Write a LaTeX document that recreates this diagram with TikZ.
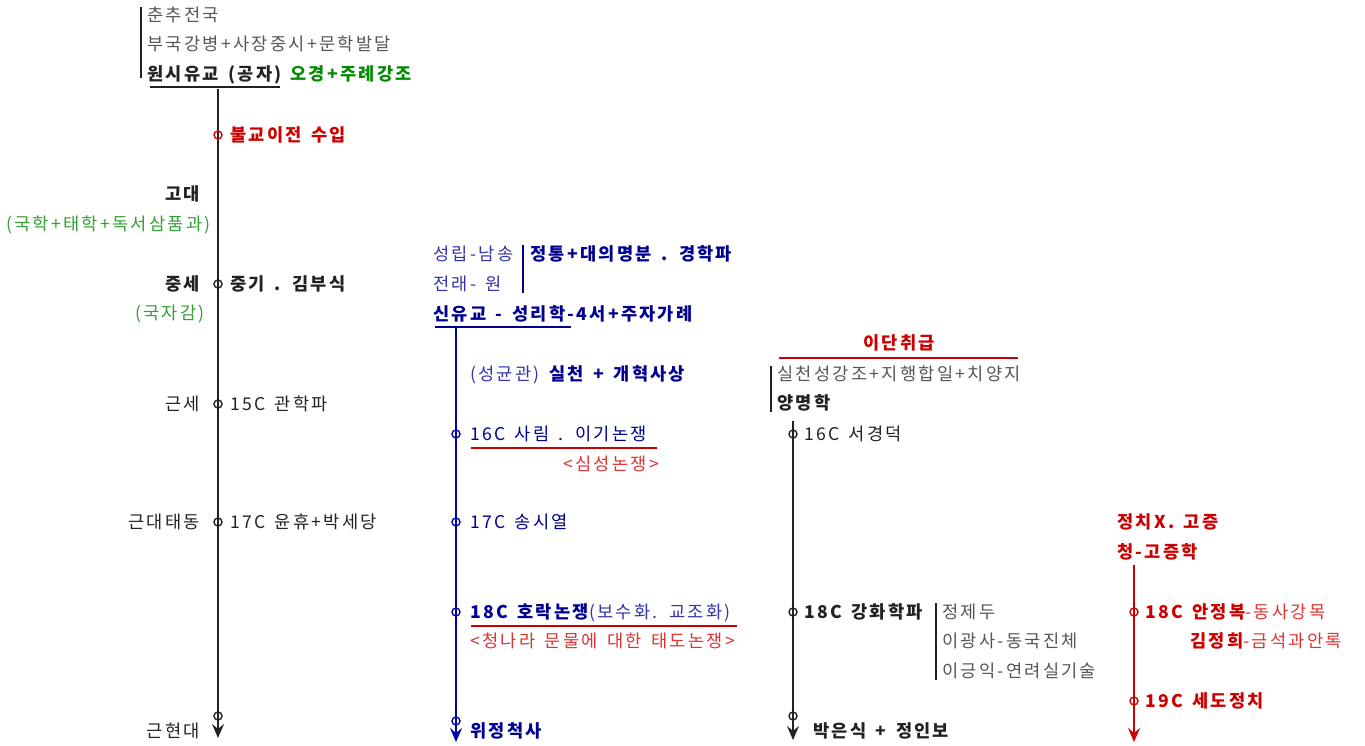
\documentclass[tikz,border=0pt]{standalone}
\usepackage{fontspec}
\setmainfont[LetterSpace=13,WordSpace=1.5]{Noto Sans CJK KR}
\usetikzlibrary{arrows.meta}
\definecolor{dk}{HTML}{222222}
\definecolor{gy}{HTML}{555555}
\definecolor{gn}{HTML}{008C00}
\definecolor{lgn}{HTML}{33A033}
\definecolor{rd}{HTML}{CC0000}
\definecolor{lrd}{HTML}{DD3333}
\definecolor{nv}{HTML}{000090}
\definecolor{bl}{HTML}{3333AA}
\definecolor{bline}{HTML}{0000AA}
\tikzset{
  lbl/.style={inner sep=0pt, text height=15pt, text depth=2pt, anchor=west},
  lblr/.style={lbl, anchor=east},
  rg/.style={font=\fontsize{17.6}{18}\selectfont},
  bd/.style={font=\fontsize{17.6}{18}\selectfont\bfseries},
  dotn/.style={circle, draw, line width=1.4pt, minimum size=8pt, inner sep=0pt},
  bar/.style={line width=1.6pt},
  tl/.style={line width=1.8pt, -{Stealth[length=14pt,width=12pt,inset=5pt]}},
  uline/.style={line width=1.6pt}
}
\begin{document}
\begin{tikzpicture}[x=1pt,y=-1pt]
\useasboundingbox (0,0) rectangle (1365,746);
% ---------- top block ----------
\coordinate (bt1) at (141,7); \coordinate (bt2) at (141,78);
\draw[bar, dk] (bt1) -- (bt2);
\node[lbl, rg, gy] (t1) at (147,15) {춘추전국};
\node[lbl, rg, gy] (t2) at (147,44) {부국강병+사장중시+문학발달};
\node[lbl, bd, dk] (t3) at (147,74) {원시유교 (공자)};
\node[lbl, bd, gn] (t4) at (290,74) {오경+주례강조};
\coordinate (u1a) at (150,87); \coordinate (u1b) at (280,87);
\draw[uline, dk] (u1a) -- (u1b);
% ---------- main black timeline ----------
\coordinate (m0) at (218,89); \coordinate (m1) at (218,738);
\draw[tl, dk] (m0) -- (m1);
\node[dotn, rd] (c1) at (218,135) {};
\node[lbl, bd, rd] (a1) at (230,135) {불교이전 수입};
\node[lblr, bd, dk] (a2) at (200,194) {고대};
\node[lblr, rg, lgn] (a3) at (211,224) {(국학+태학+독서삼품과)};
\node[lblr, bd, dk] (a4) at (200,284) {중세};
\node[dotn, dk] (c2) at (218,284) {};
\node[lbl, bd, dk] (a5) at (230,284) {중기 . 김부식};
\node[lblr, rg, lgn] (a6) at (205,313) {(국자감)};
\node[lblr, rg, dk] (a7) at (200,404) {근세};
\node[dotn, dk] (c3) at (218,404) {};
\node[lbl, rg, dk] (a8) at (230,404) {15C 관학파};
\node[lblr, rg, dk] (a9) at (200,522) {근대태동};
\node[dotn, dk] (c4) at (218,522) {};
\node[lbl, rg, dk] (a10) at (230,522) {17C 윤휴+박세당};
\node[dotn, dk] (c5) at (218,716) {};
\node[lblr, rg, dk] (a11) at (200,731) {근현대};
% ---------- blue column ----------
\node[lbl, rg, bl] (b1) at (433,254) {성립-남송};
\node[lbl, rg, bl] (b2) at (433,284) {전래- 원};
\coordinate (bb1) at (523,245); \coordinate (bb2) at (523,293);
\draw[bar, nv] (bb1) -- (bb2);
\node[lbl, bd, nv] (b3) at (530,254) {정통+대의명분 . 경학파};
\node[lbl, bd, nv] (b4) at (433,314) {신유교 - 성리학-4서+주자가례};
\coordinate (u2a) at (435,327); \coordinate (u2b) at (571,327);
\draw[uline, nv] (u2a) -- (u2b);
\coordinate (n0) at (456,327); \coordinate (n1) at (456,742);
\draw[tl, bline] (n0) -- (n1);
\node[lbl, rg, bl] (b5) at (470,374) {(성균관) \textcolor{nv}{\bfseries 실천 + 개혁사상}};
\node[dotn, bline] (d1) at (456,434) {};
\node[lbl, rg, nv] (b6) at (470,434) {16C 사림 . 이기논쟁};
\coordinate (u3a) at (471,448); \coordinate (u3b) at (657,448);
\draw[uline, rd] (u3a) -- (u3b);
\node[lbl, rg, lrd] (b7) at (563,464) {<심성논쟁>};
\node[dotn, bline] (d2) at (456,522) {};
\node[lbl, rg, nv] (b8) at (470,522) {17C 송시열};
\node[dotn, bline] (d3) at (456,612) {};
\node[lbl, bd, nv] (b9) at (470,612) {18C 호락논쟁\textcolor{bl}{\mdseries(보수화. 교조화)}};
\coordinate (u4a) at (471,626); \coordinate (u4b) at (737,626);
\draw[uline, rd] (u4a) -- (u4b);
\node[lbl, rg, lrd] (b10) at (470,641) {<청나라 문물에 대한 태도논쟁>};
\node[dotn, bline] (d4) at (456,721) {};
\node[lbl, bd, nv] (b11) at (470,731) {위정척사};
% ---------- third column ----------
\node[bd, rd, inner sep=0pt, text height=15pt, text depth=2pt] (e1) at (899,343) {이단취급};
\coordinate (u5a) at (779,358); \coordinate (u5b) at (1018,358);
\draw[uline, rd] (u5a) -- (u5b);
\coordinate (eb1) at (771,366); \coordinate (eb2) at (771,412);
\draw[bar, dk] (eb1) -- (eb2);
\node[lbl, rg, gy] (e2) at (777,374) {실천성강조+지행합일+치양지};
\node[lbl, bd, dk] (e3) at (777,403) {양명학};
\coordinate (k0) at (793,421); \coordinate (k1) at (793,740);
\draw[tl, dk] (k0) -- (k1);
\node[dotn, dk] (f1) at (793,434) {};
\node[lbl, rg, dk] (e4) at (804,434) {16C 서경덕};
\node[dotn, dk] (f2) at (793,612) {};
\node[lbl, bd, dk] (e5) at (804,612) {18C 강화학파};
\coordinate (fb1) at (936,603); \coordinate (fb2) at (936,680);
\draw[bar, dk] (fb1) -- (fb2);
\node[lbl, rg, gy] (e6) at (942,612) {정제두};
\node[lbl, rg, gy] (e7) at (942,641) {이광사-동국진체};
\node[lbl, rg, gy] (e8) at (942,671) {이긍익-연려실기술};
\node[dotn, dk] (f3) at (793,716) {};
\node[lbl, bd, dk] (e9) at (813,731) {박은식 + 정인보};
% ---------- red column ----------
\node[lbl, bd, rd] (g1) at (1117,522) {정치X. 고증};
\node[lbl, bd, rd] (g2) at (1117,552) {청-고증학};
\coordinate (r0) at (1134,565); \coordinate (r1) at (1134,742);
\draw[tl, rd] (r0) -- (r1);
\node[dotn, rd] (h1) at (1134,612) {};
\node[lbl, bd, rd] (g3) at (1145,612) {18C 안정복\textcolor{lrd}{\mdseries-동사강목}};
\node[lbl, bd, rd] (g4) at (1190,641) {김정희\textcolor{lrd}{\mdseries-금석과안록}};
\node[dotn, rd] (h2) at (1134,701) {};
\node[lbl, bd, rd] (g5) at (1145,701) {19C 세도정치};
\end{tikzpicture}
\end{document}
